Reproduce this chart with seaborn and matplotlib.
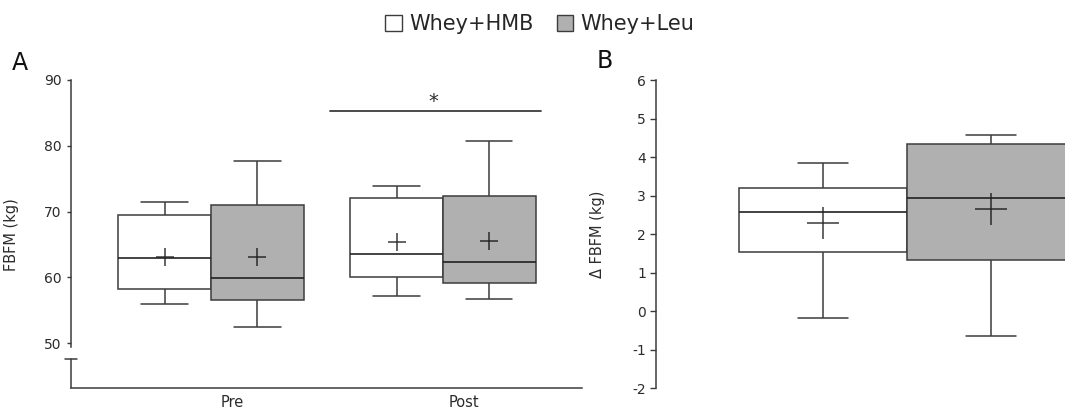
import numpy as np
import pandas as pd
import matplotlib
matplotlib.use("Agg")
import matplotlib.pyplot as plt
import matplotlib.transforms as mtransforms
from matplotlib.patches import Patch
import seaborn as sns

# ---------------- data ----------------
GROUPS = ["Whey+HMB", "Whey+Leu"]
TIMES = ["Pre", "Post"]

# five-number summaries: [lower whisker, Q1, median, Q3, upper whisker]
A_HMB_PRE = [56.0, 58.3, 63.0, 69.5, 71.4]
A_LEU_PRE = [52.5, 56.6, 59.9, 71.0, 77.75]
A_HMB_POST = [57.2, 60.1, 63.6, 72.0, 73.95]
A_LEU_POST = [56.8, 59.1, 62.4, 72.4, 80.8]
A_MEAN_HMB = [63.15, 65.45]   # Pre, Post
A_MEAN_LEU = [63.05, 65.6]

B_HMB = [-0.17, 1.53, 2.57, 3.19, 3.84]
B_LEU = [-0.64, 1.34, 2.93, 4.34, 4.57]
B_MEAN = [2.30, 2.64]          # HMB, Leu

A_YTICKS = [50, 60, 70, 80, 90]
B_YTICKS = [-2, -1, 0, 1, 2, 3, 4, 5, 6]
SIG_LEVEL = 85.35
SIG_TEXT = "*"

# ---------------- tables ----------------
rows = []
for t, vals in zip(TIMES, [A_HMB_PRE, A_HMB_POST]):
    rows += [(t, GROUPS[0], v) for v in vals]
for t, vals in zip(TIMES, [A_LEU_PRE, A_LEU_POST]):
    rows += [(t, GROUPS[1], v) for v in vals]
dfA = pd.DataFrame(rows, columns=["time", "group", "fbfm"])
meanA = pd.DataFrame(
    [(t, GROUPS[0], m) for t, m in zip(TIMES, A_MEAN_HMB)]
    + [(t, GROUPS[1], m) for t, m in zip(TIMES, A_MEAN_LEU)],
    columns=["time", "group", "fbfm"])

dfB = pd.DataFrame(
    [("d", GROUPS[0], v) for v in B_HMB] + [("d", GROUPS[1], v) for v in B_LEU],
    columns=["cat", "group", "dfbfm"])
meanB = pd.DataFrame([("d", g, m) for g, m in zip(GROUPS, B_MEAN)],
                     columns=["cat", "group", "dfbfm"])

# ---------------- style ----------------
sns.set_theme(style="white")
plt.rcParams["font.family"] = ["DejaVu Sans"]
LINE = "#3c3c3c"
TXT = "#2b2b2b"
FILL = {GROUPS[0]: "#ffffff", GROUPS[1]: "#b0b0b0"}
DARK = {GROUPS[0]: "#3a3a3a", GROUPS[1]: "#2a2a2a"}

W, H = 1065, 413
fig = plt.figure(figsize=(W / 100, H / 100), dpi=100)

def px_axes(l, r, top, bottom):
    return fig.add_axes([l / W, (H - bottom) / H, (r - l) / W, (bottom - top) / H])

axA = px_axes(71, 582, 80, 388.3)
axB = px_axes(656, 1065, 80, 388.3)

box_kw = dict(whis=np.inf, width=0.8, saturation=1, linecolor=LINE, linewidth=1.1,
              legend=False, medianprops=dict(color="#222222", linewidth=1.2))

# ---- panel A ----
sns.boxplot(data=dfA, x="time", y="fbfm", hue="group", order=TIMES, hue_order=GROUPS,
            palette=FILL, ax=axA, **box_kw)
sns.pointplot(data=meanA, x="time", y="fbfm", hue="group", order=TIMES, hue_order=GROUPS,
              palette=DARK, dodge=0.4, markers="+", linestyles="none", errorbar=None,
              legend=False, ax=axA, markersize=13, markeredgewidth=1.1)

axA.set_xlim(-0.604, 1.60)
axA.set_ylim(43.16, 90)
axA.set_yticks(A_YTICKS)
axA.set_xticks(range(len(TIMES)))
axA.set_xticklabels(TIMES)
for s in ["top", "right"]:
    axA.spines[s].set_visible(False)
for s in ["left", "bottom"]:
    axA.spines[s].set_color(LINE)
    axA.spines[s].set_linewidth(1.1)
axA.spines["left"].set_bounds(49.5, 90)
# broken-axis lower segment and break mark
ytr = axA.get_yaxis_transform()
brk = 47.57
axA.plot([0, 0], [43.16, brk], transform=ytr, color=LINE, lw=1.1, clip_on=False)
axA.plot([-0.0108, 0.0108], [brk, brk], transform=ytr, color=LINE, lw=1.1, clip_on=False)
axA.tick_params(axis="y", length=3.2, width=1.0, color=LINE, labelsize=10,
                labelcolor=TXT, pad=3.5, left=True)
axA.tick_params(axis="x", length=0, labelsize=10.5, labelcolor=TXT, pad=4.5)
shift = mtransforms.ScaledTranslation(0.21, 0, fig.dpi_scale_trans)
for lab in axA.get_xticklabels():
    lab.set_transform(lab.get_transform() + shift)
axA.set_xlabel("")
axA.set_ylabel("FBFM (kg)", fontsize=10.5, color=TXT)
axA.yaxis.set_label_coords(-0.102, 0.5)
# significance bar over Post
axA.plot([0.514, 1.423], [SIG_LEVEL, SIG_LEVEL], color=LINE, lw=1.3)
axA.text(0.958, 86.8, SIG_TEXT, ha="center", va="center", fontsize=14, color=TXT)

# ---- panel B ----
sns.boxplot(data=dfB, x="cat", y="dfbfm", hue="group", hue_order=GROUPS,
            palette=FILL, ax=axB, **box_kw)
sns.pointplot(data=meanB, x="cat", y="dfbfm", hue="group", hue_order=GROUPS,
              palette=DARK, dodge=0.4, markers="+", linestyles="none", errorbar=None,
              legend=False, ax=axB, markersize=23, markeredgewidth=1.1)
# narrower whisker caps in panel B
for ln in axB.lines:
    xd = np.asarray(ln.get_xdata(), dtype=float)
    yd = np.asarray(ln.get_ydata(), dtype=float)
    if len(xd) == 2 and np.isclose(yd[0], yd[1]) and np.isclose(abs(xd[1] - xd[0]), 0.2):
        c = xd.mean()
        ln.set_xdata([c - 0.06, c + 0.06])

axB.set_xlim(-0.5976, 0.376)
axB.set_ylim(-2, 6)
axB.set_yticks(B_YTICKS)
axB.set_yticklabels([str(v) for v in B_YTICKS])
for s in ["top", "right", "bottom"]:
    axB.spines[s].set_visible(False)
axB.spines["left"].set_color(LINE)
axB.spines["left"].set_linewidth(1.1)
axB.set_xticks([])
axB.set_xlabel("")
axB.tick_params(axis="y", length=4.2, width=1.0, color=LINE, labelsize=10,
                labelcolor=TXT, pad=3, left=True)
axB.set_ylabel("\u0394 FBFM (kg)", fontsize=10.5, color=TXT)
axB.yaxis.set_label_coords(-0.125, 0.5)

# ---- panel letters and legend ----
fig.text(12 / W, 1 - 63.5 / H, "A", fontsize=17, ha="left", va="center", color="#111111")
fig.text(597 / W, 1 - 60.5 / H, "B", fontsize=17, ha="left", va="center", color="#111111")
handles = [Patch(facecolor=FILL[g], edgecolor=LINE, linewidth=1.0, label=g) for g in GROUPS]
fig.legend(handles=handles, loc="center", bbox_to_anchor=(540 / W, 1 - 24 / H), ncol=2,
           frameon=False, fontsize=15, handlelength=0.8, handleheight=0.8,
           handletextpad=0.35, columnspacing=1.1, borderpad=0)

fig.savefig("out.png", dpi=100)
